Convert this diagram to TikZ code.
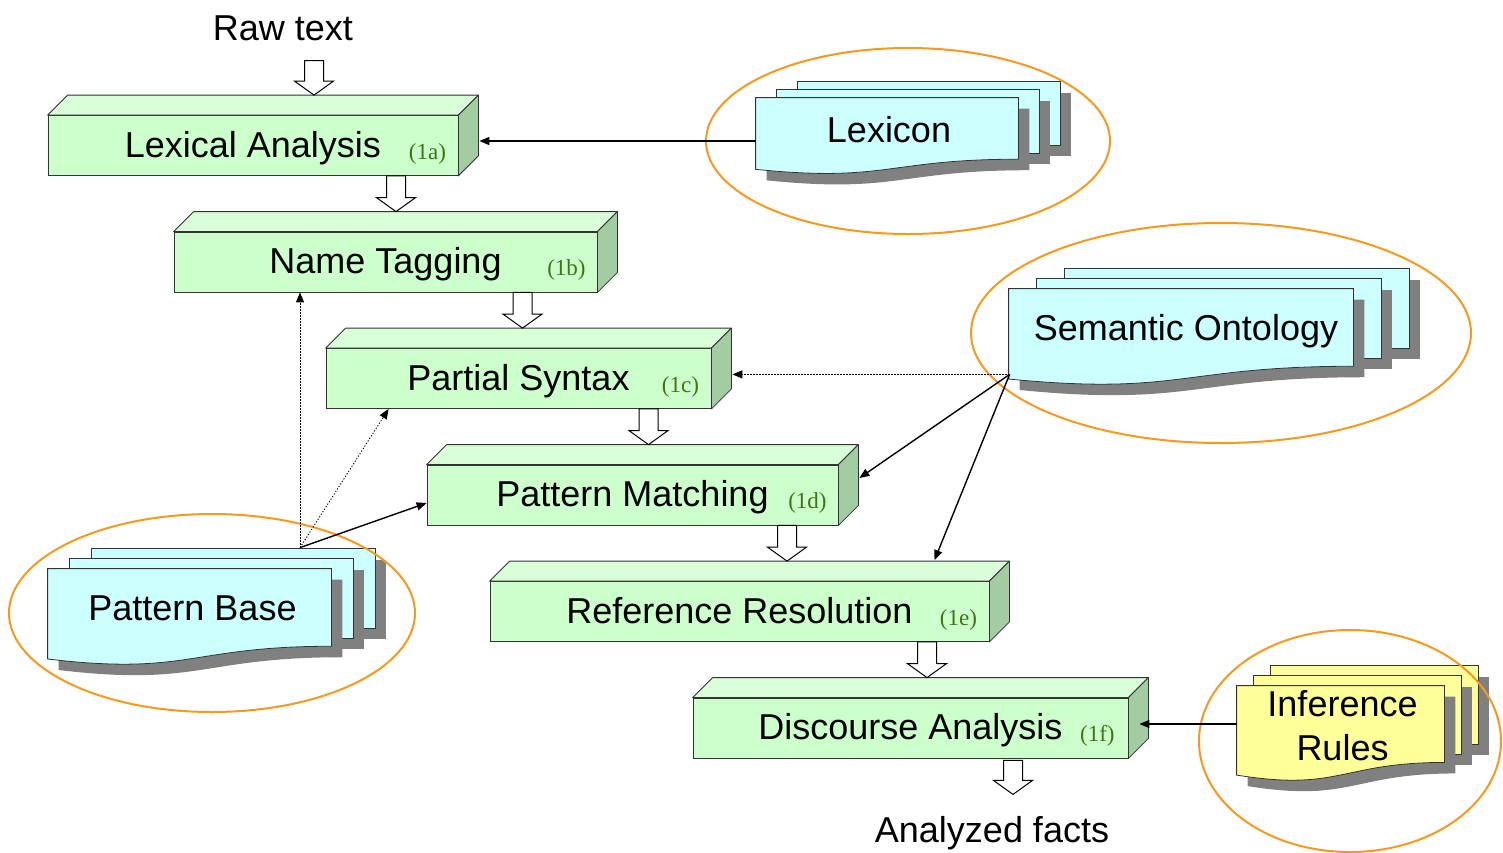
\documentclass[tikz,border=0pt]{standalone}
\usepackage{fontspec}
\setmainfont{Liberation Sans}
\newfontfamily\tagfont{Liberation Serif}
\usepackage{xcolor}
\usepackage{tikz}
\usetikzlibrary{arrows.meta, positioning, shapes.geometric, calc}

\definecolor{stagefront}{HTML}{CCFFCC}
\definecolor{stagetop}{HTML}{D8FFD8}
\definecolor{stageside}{HTML}{A3CCA3}
\definecolor{docblue}{HTML}{CCFFFF}
\definecolor{docyellow}{HTML}{FFFF99}
\definecolor{ringorange}{HTML}{F59A1C}
\definecolor{tagcolor}{HTML}{447212}

\begin{document}
\begin{tikzpicture}[
      x=0.5pt, y=-0.5pt,
      every node/.style={font=\fontsize{18}{22}\selectfont},
      stage/.style={rectangle, draw=black!80, fill=stagefront, minimum height=30pt, inner sep=0pt, text height=15.5pt, text depth=4pt},
      topface/.style={draw=black!80, fill=stagetop, line join=round},
      sideface/.style={draw=black!80, fill=stageside, line join=round},
      tagtext/.style={font=\tagfont\fontsize{11.5}{13}\selectfont, text=tagcolor},
      sheet/.style={rectangle, inner sep=0pt},
      ring/.style={ellipse, draw=ringorange, line width=1pt, inner sep=0pt},
      link/.style={line width=0.7pt, -{Triangle[length=5pt,width=4pt]}},
      hint/.style={line width=0.45pt, dash pattern=on 0.6pt off 0.9pt, -{Triangle[length=5pt,width=4pt]}},
      hollow/.style={draw=black, fill=white, line width=0.5pt}
    ]
      \path[use as bounding box, fill=white] (0,0) rectangle (1503,852);

      % processing stages
      \foreach \nm/\cx/\cy/\w/\txt/\tg in {
          lex/253/145.5/410/Lexical Analysis/1a,
          tag/385.5/262/423/Name Tagging/1b,
          syn/518.5/378.5/385/Partial Syntax/1c,
          pat/632.5/495/411/Pattern Matching/1d,
          ref/739.5/611.5/499/Reference Resolution/1e,
          dis/910.5/728/435/Discourse Analysis/1f} {
        \node[stage, minimum width=\w*0.5pt] (\nm) at (\cx,\cy) {\txt};
        \filldraw[topface] (\nm.north west) -- ++(20,-20) -- ([shift={(20,-20)}]\nm.north east) -- (\nm.north east) -- cycle;
        \filldraw[sideface] (\nm.north east) -- ++(20,-20) -- ([shift={(20,-20)}]\nm.south east) -- (\nm.south east) -- cycle;
        \node[tagtext] (\nm-tag) at ([shift={(-31,8)}]\nm.east) {(\tg)};
      }

      % knowledge sources
      \node[sheet, minimum width=131pt, minimum height=38pt] (lexdoc) at (887,136) {};
      \node[sheet, minimum width=172pt, minimum height=48pt] (semdoc) at (1181,337) {};
      \node[sheet, minimum width=141.5pt, minimum height=48pt] (pbdoc) at (189.5,617) {};
      \node[sheet, minimum width=103.5pt, minimum height=47.5pt] (infdoc) at (1340.5,733.5) {};

      \foreach \nm/\dx/\dy/\fc in {lexdoc/21/8/docblue, semdoc/28/10/docblue, pbdoc/22/10/docblue, infdoc/17/10/docyellow} {
        \foreach \k in {2,1} {
          \fill[black!50] ($(\nm.north west)+(\k*\dx+11,-\k*\dy+11)$) rectangle ($(\nm.north east)!0.802!(\nm.south east)+(\k*\dx+11,-\k*\dy+13)$);
          \filldraw[draw=black!80, fill=\fc] ($(\nm.north west)+(\k*\dx,-\k*\dy)$) rectangle ($(\nm.north east)!0.802!(\nm.south east)+(\k*\dx,-\k*\dy+2)$);
        }
        \foreach \s/\col/\ln in {11/black!50/none, 0/\fc/black!80}
          \filldraw[fill=\col, draw=\ln] ($(\nm.north west)+(\s,\s)$) -- ($(\nm.north east)+(\s,\s)$)
            -- ($(\nm.north east)!0.802!(\nm.south east)+(\s,\s)$)
            .. controls ($(\nm.north)!0.802!(\nm.south)+(\s,\s)$) and ($(\nm.north)!1.1075!(\nm.south)+(\s,\s)$)
            .. ($(\nm.north west)!0.934!(\nm.south west)+(\s,\s)$) -- cycle;
      }
      \node (lexname) at ([shift={(2,-6)}]lexdoc.center) {Lexicon};
      \node (semname) at ([shift={(5,-6)}]semdoc.center) {Semantic Ontology};
      \node (pbname) at ([shift={(3,-9)}]pbdoc.center) {Pattern Base};
      \node[align=center] (infname) at ([shift={(2,-7.5)}]infdoc.center) {Inference\\Rules};

      \node[ring, minimum width=202pt, minimum height=93pt] (lexring) at (908,141) {};
      \node[ring, minimum width=250pt, minimum height=110pt] (semring) at (1221,333) {};
      \node[ring, minimum width=203pt, minimum height=99pt] (pbring) at (212,613) {};
      \node[ring, minimum width=151pt, minimum height=111pt] (infring) at (1350,741) {};

      % input and output
      \node (raw) at (283,28) {Raw text};
      \node (facts) at (992,833) {Analyzed facts};

      \foreach \a/\b/\dx/\gap in {raw/lex/30.5/6.5, lex/tag/5.25/0, tag/syn/2/0, syn/pat/8/0, pat/ref/23.75/0, ref/dis/8.25/0}
        \draw[hollow] let \p1=([xshift=\dx pt]\b.north), \p2=(\a.south) in
          (\x1-4.75pt,\y2-\gap pt) -- (\x1-4.75pt,\y1+17pt) -- (\x1-9.75pt,\y1+17pt) -- (\x1,\y1+10pt)
          -- (\x1+9.75pt,\y1+17pt) -- (\x1+4.75pt,\y1+17pt) -- (\x1+4.75pt,\y2-\gap pt) -- cycle;
      \draw[hollow] let \p1=([xshift=10.5pt]facts.north), \p2=(dis.south) in
        (\x1-4.75pt,\y2-1pt) -- (\x1-4.75pt,\y2-11pt) -- (\x1-9.75pt,\y2-11pt) -- (\x1,\y2-18pt)
        -- (\x1+9.75pt,\y2-11pt) -- (\x1+4.75pt,\y2-11pt) -- (\x1+4.75pt,\y2-1pt) -- cycle;

      % knowledge links
      \coordinate (lex-in) at ([shift={(21,-4.5)}]lex.east);
      \coordinate (dis-in) at ([shift={(11,-4)}]dis.east);
      \coordinate (syn-back) at ([shift={(21,-4)}]syn.east);
      \coordinate (semfoot) at ([shift={(1,-11)}]semdoc.south west);
      \coordinate (pbtop) at ([shift={(110.5,-21)}]pbdoc.north);

      \draw[link] (lexdoc.west |- lex-in) -- (lex-in);
      \draw[link] (infdoc.west |- dis-in) -- (dis-in);
      \draw[hint] (semfoot) -- (semfoot -| syn-back);
      \draw[link] (semfoot) -- ([shift={(21,-17)}]pat.east);
      \draw[link] (semfoot) -- ([shift={(195,-21)}]ref.north);
      \draw[hint] (pbtop) -- (pbtop |- tag.south);
      \draw[hint] (pbtop) -- ([xshift=31.5pt]syn.south west);
      \draw[link] (pbtop) -- ([yshift=-4pt]pat.west);
    \end{tikzpicture}
\end{document}
